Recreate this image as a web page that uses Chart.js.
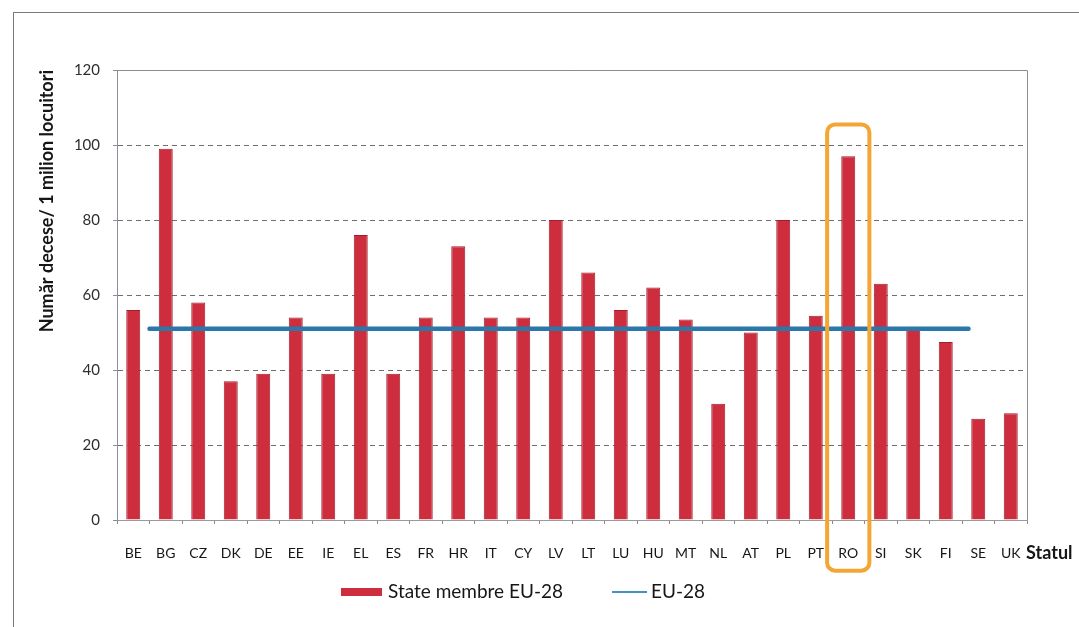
<!DOCTYPE html>
<html>
<head>
<meta charset="utf-8">
<title>Număr decese / 1 milion locuitori</title>
<script src="https://cdn.jsdelivr.net/npm/chart.js@4/dist/chart.umd.min.js"></script>
<style>
  html, body { margin: 0; padding: 0; background: #fff; }
  #wrap { position: relative; width: 1079px; height: 627px; overflow: hidden; }
  #frame { position: absolute; left: 13px; top: 12px; width: 1200px; height: 800px; border: 1px solid #7a7a7a; }
  canvas { position: absolute; left: 0; top: 0; }
</style>
</head>
<body>
<div id="wrap">
  <div id="frame"></div>
  <canvas id="chart" width="1079" height="627"></canvas>
</div>
<script>
'use strict';

// Deaths per 1 million inhabitants, by EU-28 member state
const countries = ['BE', 'BG', 'CZ', 'DK', 'DE', 'EE', 'IE', 'EL', 'ES', 'FR', 'HR', 'IT', 'CY', 'LV',
                   'LT', 'LU', 'HU', 'MT', 'NL', 'AT', 'PL', 'PT', 'RO', 'SI', 'SK', 'FI', 'SE', 'UK'];
const deathsPerMillion = [56, 99, 58, 37, 39, 54, 39, 76, 39, 54, 73, 54, 54, 80,
                          66, 56, 62, 53.5, 31, 50, 80, 54.5, 97, 63, 51, 47.5, 27, 28.5];

// EU-28 average, drawn as a horizontal reference line
const euAverage = 51;
const euLineSpan = [0.5, 25.7];      // category positions where the line starts / ends

const yTicks = { min: 0, max: 120, step: 20 };
const highlightCountry = 'RO';

const FONT = 'Lato, "Open Sans", sans-serif';

/* plot area frame: solid top and right edges */
const plotFrame = {
    id: 'plotFrame',
    beforeDatasetsDraw(chart) {
        const { ctx, chartArea: a } = chart;
        ctx.save();
        ctx.strokeStyle = '#8d8d8d';
        ctx.lineWidth = 1;
        ctx.beginPath();
        ctx.moveTo(a.left, Math.round(a.top) + 0.5);
        ctx.lineTo(Math.round(a.right) + 0.5, Math.round(a.top) + 0.5);
        ctx.lineTo(Math.round(a.right) + 0.5, a.bottom);
        ctx.stroke();
        ctx.restore();
    }
};

/* orange rounded box around the highlighted country */
const highlightBox = {
    id: 'highlightBox',
    afterDatasetsDraw(chart) {
        const { ctx, scales: { x, y } } = chart;
        const i = countries.indexOf(highlightCountry);
        if (i < 0) return;
        const half = x.width / countries.length * 0.65;
        const cx = x.getPixelForValue(i);
        const l = cx - half, r = cx + half;
        const t = y.getPixelForValue(105.5), b = y.getPixelForValue(-13.5);
        const rad = 8;
        ctx.save();
        ctx.strokeStyle = '#F3A634';
        ctx.lineWidth = 4;
        ctx.beginPath();
        ctx.moveTo(l + rad, t);
        ctx.lineTo(r - rad, t);
        ctx.arcTo(r, t, r, t + rad, rad);
        ctx.lineTo(r, b - rad);
        ctx.arcTo(r, b, r - rad, b, rad);
        ctx.lineTo(l + rad, b);
        ctx.arcTo(l, b, l, b - rad, rad);
        ctx.lineTo(l, t + rad);
        ctx.arcTo(l, t, l + rad, t, rad);
        ctx.closePath();
        ctx.stroke();
        ctx.restore();
    }
};

/* "Statul" caption at the end of the category axis */
const axisCaption = {
    id: 'axisCaption',
    afterDraw(chart) {
        const { ctx, chartArea: a } = chart;
        ctx.save();
        ctx.font = 'bold 18px ' + FONT;
        ctx.fillStyle = '#161616';
        ctx.textAlign = 'left';
        ctx.textBaseline = 'middle';
        ctx.fillText('Statul', a.right - 1, a.bottom + 33);
        ctx.restore();
    }
};

/* series key under the axis: red swatch for the bars, thin blue stroke for the average */
const seriesKey = {
    id: 'seriesKey',
    afterDraw(chart) {
        const { ctx } = chart;
        const y = 592;
        let x = 341;
        ctx.save();
        ctx.font = '19px ' + FONT;
        ctx.textBaseline = 'middle';
        chart.data.datasets.forEach(ds => {
            if (ds.type === 'bar') {
                ctx.fillStyle = ds.backgroundColor;
                ctx.fillRect(x, y - 4, 41, 8);
                x += 41 + 6;
            } else {
                ctx.strokeStyle = '#3E93C2';
                ctx.lineWidth = 2;
                ctx.beginPath();
                ctx.moveTo(x, y);
                ctx.lineTo(x + 35, y);
                ctx.stroke();
                x += 35 + 4;
            }
            ctx.fillStyle = '#161616';
            ctx.fillText(ds.label, x, y);
            x += ctx.measureText(ds.label).width + 49;
        });
        ctx.restore();
    }
};

new Chart(document.getElementById('chart'), {
    type: 'bar',
    data: {
        labels: countries,
        datasets: [{
            type: 'bar',
            label: 'State membre EU-28',
            data: deathsPerMillion,
            backgroundColor: '#CE2D3D',
            borderColor: '#A11E2C',
            borderWidth: 1,
            grouped: false,
            barPercentage: 0.43,
            categoryPercentage: 1,
            order: 1
        }, {
            type: 'line',
            label: 'EU-28',
            xAxisID: 'xLine',
            data: euLineSpan.map(v => ({ x: v, y: euAverage })),
            borderColor: '#2B77AA',
            borderWidth: 4.5,
            borderCapStyle: 'round',
            pointRadius: 0,
            order: 0
        }]
    },
    options: {
        responsive: false,
        animation: false,
        layout: { padding: { left: 0, right: 52, top: 70, bottom: 57 } },
        plugins: {
            tooltip: { enabled: false },
            legend: { display: false }
        },
        scales: {
            x: {
                type: 'category',
                offset: true,
                afterFit(s) { s.height = 50; },
                grid: { display: true, drawOnChartArea: false, drawTicks: true, tickLength: 4, color: '#8a8a8a', offset: true },
                border: { display: true, color: '#9a9a9a', width: 1 },
                ticks: { display: true, padding: 21, color: '#161616', font: { family: FONT, size: 14 }, maxRotation: 0, autoSkip: false }
            },
            xLine: {
                type: 'linear',
                display: false,
                offset: false,
                grid: { offset: false },
                bounds: 'data',
                min: -0.5,
                max: countries.length - 0.5
            },
            y: {
                min: yTicks.min,
                max: yTicks.max,
                afterFit(s) { s.width = 117; },
                grid: { color: '#6f6f6f', lineWidth: 1, drawTicks: true, tickLength: 4, tickColor: '#8a8fa0' },
                border: { display: true, color: '#8a8fa0', width: 1, dash: [5, 4] },
                ticks: { stepSize: yTicks.step, padding: 13, color: '#2e2e2e', font: { family: FONT, size: 15 } },
                title: {
                    display: true,
                    text: 'Număr decese/ 1 milion locuitori',
                    align: 'end',
                    color: '#161616',
                    font: { family: FONT, size: 18, weight: 'bold' },
                    padding: { top: 36, bottom: 0 }
                }
            }
        }
    },
    plugins: [plotFrame, highlightBox, axisCaption, seriesKey]
});
</script>
</body>
</html>
